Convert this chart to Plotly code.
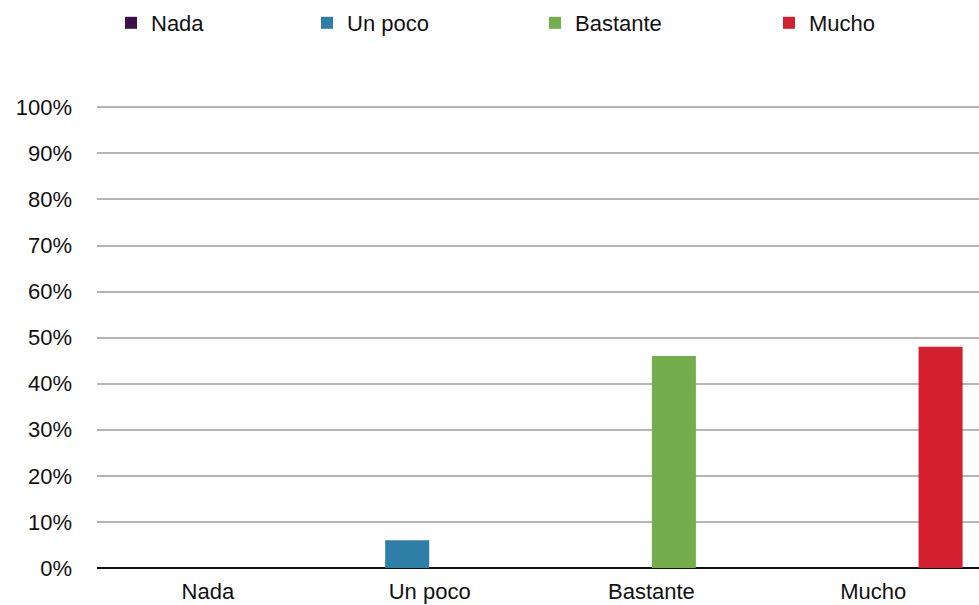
import plotly.graph_objects as go

# Response categories and share of answers (%) per category
categories = ["Nada", "Un poco", "Bastante", "Mucho"]
series_names = ["Nada", "Un poco", "Bastante", "Mucho"]
series_values = [
    [0, 0, 0, 0],
    [0, 6, 0, 0],
    [0, 0, 46, 0],
    [0, 0, 0, 48],
]
series_colors = ["#3d1049", "#2f7ea8", "#74ad4b", "#d31f30"]
y_ticks = [0, 10, 20, 30, 40, 50, 60, 70, 80, 90, 100]

W, H = 979, 605
FONT = "Liberation Sans, Arial, Helvetica, sans-serif"
FS = 22

# Legend entries placed one by one along the top strip (left edge of each in px)
legend_x_px = [111, 307, 535, 769]
legend_keys = ["legend", "legend2", "legend3", "legend4"]

fig = go.Figure()
for name, vals, color, lk in zip(series_names, series_values, series_colors, legend_keys):
    fig.add_trace(go.Bar(
        x=categories,
        y=vals,
        name=name,
        marker=dict(color=color, line=dict(width=0)),
        legend=lk,
        hoverinfo="skip",
    ))

legend_common = dict(
    orientation="h",
    xref="container",
    yref="container",
    xanchor="left",
    yanchor="middle",
    y=1 - 23 / H,
    font=dict(family=FONT, size=FS, color="#111111"),
    bgcolor="rgba(0,0,0,0)",
    borderwidth=0,
    itemclick=False,
    itemdoubleclick=False,
)
legend_layout = {}
for lk, px in zip(legend_keys, legend_x_px):
    legend_layout[lk] = dict(legend_common, x=px / W)

fig.update_layout(
    width=W,
    height=H,
    margin=dict(l=97, r=0, t=105, b=37),
    paper_bgcolor="white",
    plot_bgcolor="white",
    barmode="group",
    bargap=0.19,
    bargroupgap=0.02,
    showlegend=True,
    font=dict(family=FONT, size=FS, color="#111111"),
    xaxis=dict(
        type="category",
        categoryorder="array",
        categoryarray=categories,
        range=[-0.5, 3.477],
        showgrid=False,
        showline=False,
        zeroline=False,
        ticks="",
        ticklabelstandoff=8,
        tickfont=dict(family=FONT, size=FS, color="#111111"),
    ),
    yaxis=dict(
        range=[0, 100.5],
        tickvals=y_ticks,
        ticktext=[f"{v}%" for v in y_ticks],
        showgrid=True,
        gridcolor="#b5b5b5",
        gridwidth=1.5,
        zeroline=True,
        zerolinecolor="#111111",
        zerolinewidth=2,
        showline=False,
        ticks="",
        ticklabelstandoff=24,
        tickfont=dict(family=FONT, size=FS, color="#111111"),
        fixedrange=True,
    ),
    **legend_layout,
)

fig.write_html("out.html")
